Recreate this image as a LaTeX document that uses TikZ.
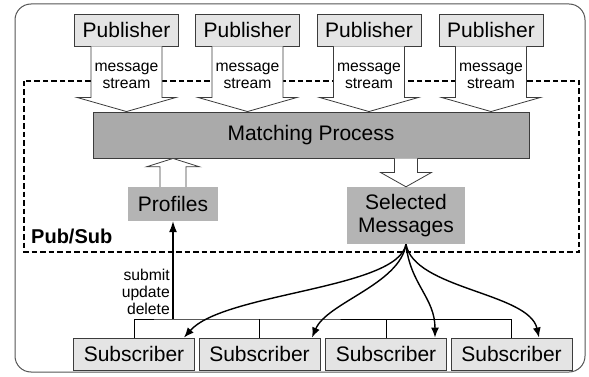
\documentclass[tikz,border=0pt]{standalone}
\usepackage{fontspec}
\setmainfont{Liberation Sans}
\usetikzlibrary{arrows.meta,calc}

\definecolor{edgegray}{HTML}{3C3C3C}
\definecolor{framegray}{HTML}{555555}
\definecolor{paleface}{HTML}{E4E4E4}
\definecolor{coreface}{HTML}{AAAAAA}
\definecolor{dataface}{HTML}{B4B4B4}

\begin{document}
\begin{tikzpicture}[x=1pt,y=-1pt,
  bigfont/.style={font=\fontsize{21}{24}\selectfont},
  smallfont/.style={font=\fontsize{15.7}{17}\selectfont},
  actor/.style={draw=edgegray, fill=paleface, line width=0.9pt, inner sep=0pt,
    minimum height=32pt, bigfont},
  pubbox/.style={actor, minimum width=104pt},
  subbox/.style={actor, minimum width=121pt},
  databox/.style={fill=dataface, inner sep=0pt, bigfont, align=center},
  blockarrow/.style={draw=edgegray, fill=white, line width=0.8pt, line join=miter},
  flow/.style={draw=black, line width=1.4pt, -{Latex[length=10pt,width=8pt]}},
  thin/.style={draw=black, line width=0.8pt}
]
\useasboundingbox (0,0) rectangle (589,377);

% outer frame and Pub/Sub boundary
\draw[framegray, line width=1pt, rounded corners=16pt] (15,4) rectangle (585,372);
\draw[black, line width=1.7pt, dash pattern=on 5.5pt off 3pt] (24,81) rectangle (579,252);
\node[anchor=base west, inner sep=0pt, font=\fontsize{20}{24}\selectfont\bfseries] (pubsub) at (31,243) {Pub/Sub};

% publishers
\node[pubbox] (p1) at (126.5,30) {Publisher};
\node[pubbox] (p2) at (247.5,30) {Publisher};
\node[pubbox] (p3) at (369,30) {Publisher};
\node[pubbox] (p4) at (491,30) {Publisher};

% matching process
\node[draw=edgegray, fill=coreface, line width=0.9pt, inner sep=0pt,
  minimum width=436pt, minimum height=46pt, bigfont] (match) at (311,135) {Matching Process};

% profiles and selected messages
\node[databox, minimum width=90pt, minimum height=34pt] (prof) at (173,204) {Profiles};
\node[databox, minimum width=118pt, minimum height=57pt] (sel) at (406,215.5) {Selected\\[-1pt]Messages};

% message stream block arrows
\foreach \p in {p1,p2,p3,p4}{
  \draw[blockarrow]
    ($(\p.south)+(-35.5,0)$) -- ($(\p.south)+(-35.5,51)$) -- ($(\p.south)+(-49.5,51)$)
    -- (\p.south |- match.north)
    -- ($(\p.south)+(49.5,51)$) -- ($(\p.south)+(35.5,51)$) -- ($(\p.south)+(35.5,0)$);
  \node[smallfont, align=center, inner sep=0pt] at ($(\p.south)+(0,29)$) {message\\stream};
}

% profiles feed the matching process
\draw[blockarrow]
  ($(prof.north)+(-13,0)$) -- ($(prof.north)+(-13,-20)$) -- ($(prof.north)+(-26.5,-20)$)
  -- (prof.north |- match.south)
  -- ($(prof.north)+(26.5,-20)$) -- ($(prof.north)+(13,-20)$) -- ($(prof.north)+(13,0)$);

% matching process yields selected messages
\draw[blockarrow]
  ($(sel.north |- match.south)+(-11.5,0)$) -- ($(sel.north |- match.south)+(-11.5,14)$)
  -- ($(sel.north |- match.south)+(-25.5,14)$) -- (sel.north)
  -- ($(sel.north |- match.south)+(25.5,14)$) -- ($(sel.north |- match.south)+(11.5,14)$)
  -- ($(sel.north |- match.south)+(11.5,0)$);

% subscribers
\node[subbox] (s1) at (134,354) {Subscriber};
\node[subbox] (s2) at (259.5,354) {Subscriber};
\node[subbox] (s3) at (386,354) {Subscriber};
\node[subbox] (s4) at (511.5,354) {Subscriber};

% subscriber bus and profile management
\coordinate (bus) at (173,319);
\draw[thin] (s1.north) |- (bus) -- (s4.north |- bus) -- (s4.north);
\draw[thin] (s2.north) -- (s2.north |- bus);
\draw[thin] (s3.north) -- (s3.north |- bus);
\draw[draw=black, line width=1.1pt, -{Latex[length=11pt,width=8pt]}] (bus) -- (prof.south);
\node[smallfont, align=right, anchor=east, inner sep=0pt] (ops) at (170,292) {submit\\update\\delete};

% delivery of selected messages
\coordinate (t1) at ($(s1.north)+(50,0)$);
\coordinate (t2) at ($(s2.north)+(52.5,0)$);
\coordinate (t3) at ($(s3.north)+(49,0)$);
\coordinate (t4) at ($(s4.north)+(27.5,0)$);
\draw[flow] (sel.south) .. controls +(-8,45) and +(40,-45) .. (t1);
\draw[flow] (sel.south) .. controls +(-6,40) and +(15,-35) .. (t2);
\draw[flow] (sel.south) .. controls +(4,40) and +(0,-40) .. (t3);
\draw[flow] (sel.south) .. controls +(8,45) and +(-10,-45) .. (t4);
\end{tikzpicture}
\end{document}
